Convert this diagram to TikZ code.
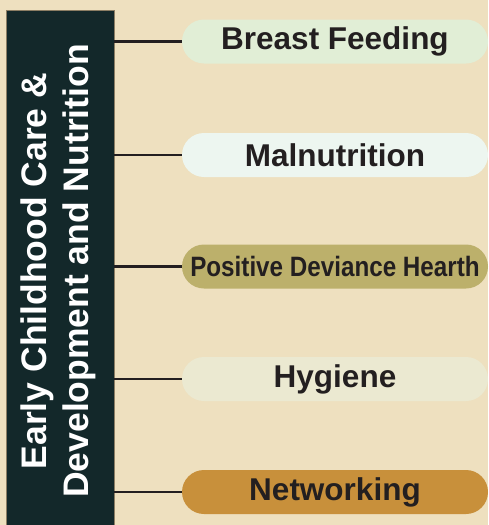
\documentclass[tikz,border=0pt]{standalone}
\usepackage{fontspec}
\setmainfont{Liberation Sans}
\usetikzlibrary{shapes.misc}
\definecolor{paper}{HTML}{EEE0BF}
\definecolor{barfill}{HTML}{13282A}
\definecolor{baredge}{HTML}{8C7E64}
\definecolor{ink}{HTML}{231F20}
\definecolor{pillA}{HTML}{E1EED6}
\definecolor{pillB}{HTML}{EDF6F0}
\definecolor{pillC}{HTML}{BCB06B}
\definecolor{pillD}{HTML}{EBE9D1}
\definecolor{pillE}{HTML}{C8903B}
\begin{document}
\begin{tikzpicture}[x=1pt,y=-1pt,
  pill/.style={rounded rectangle, minimum width=306pt, minimum height=44pt,
    inner sep=0pt, text=ink, font=\bfseries\fontsize{31.5}{36}\selectfont},
  link/.style={draw=ink, line width=2.4pt}]
  \useasboundingbox (0,0) rectangle (488,525);
  \fill[paper] (0,0) rectangle (488,525);
  % title column
  \draw[fill=barfill, draw=baredge, line width=0.8pt] (6,10) rectangle (114,526);
  \coordinate (barR) at (114,0);
  \node[rotate=90, text=white, align=center,
        font=\bfseries\fontsize{35.5}{42}\selectfont] (title) at (58,271)
        {Early Childhood Care \&\\Development and Nutrition};
  % topic pills
  \node[pill, fill=pillA] (p1) at (335,41.5) {Breast Feeding};
  \node[pill, fill=pillB] (p2) at (335,155) {Malnutrition};
  \node[pill, fill=pillC] (p3) at (335,266.5)
        {\fontsize{28}{32}\selectfont\scalebox{0.865}[1]{Positive Deviance Hearth}};
  \node[pill, fill=pillD] (p4) at (335,379) {Hygiene};
  \node[pill, fill=pillE] (p5) at (335,492) {Networking};
  % connectors from the column to each pill
  \foreach \p in {p1,p2,p3,p4,p5}
    \draw[link] (barR |- \p.west) -- (\p.west);
\end{tikzpicture}
\end{document}
